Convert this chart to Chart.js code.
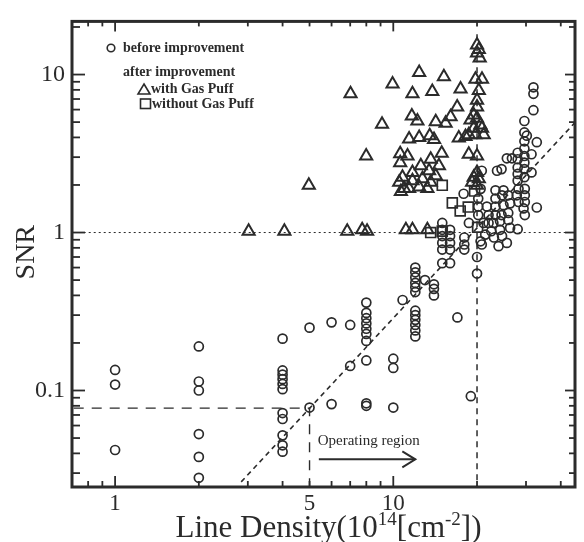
<!DOCTYPE html>
<html>
<head>
<meta charset="utf-8">
<script src="https://cdn.jsdelivr.net/npm/chart.js@4.4.1/dist/chart.umd.min.js"></script>
<style>
  html, body { margin: 0; padding: 0; background: #fff; }
</style>
</head>
<body>
<canvas id="snrChart" width="584" height="542"></canvas>
<script>
// 坐标范围
const xRange = [0.71, 45];
const yRange = [0.0245, 21.7];

// 刻度
const xLabelVals = [1, 5, 10];
const xMajor = [1, 10];
const xMinor = [0.8, 0.9, 2, 3, 4, 5, 6, 7, 8, 9, 20, 30, 40];
const yLabelVals = [0.1, 1, 10];
const yMajor = [0.1, 1, 10];
const yMinor = [0.03, 0.04, 0.05, 0.06, 0.07, 0.08, 0.09, 0.2, 0.3, 0.4, 0.5, 0.6, 0.7, 0.8, 0.9, 2, 3, 4, 5, 6, 7, 8, 9, 20];

// before improvement (圆)
const beforeX = [
  1, 1, 1,
  2, 2, 2, 2, 2, 2,
  4, 4, 4, 4, 4, 4, 4, 4, 4, 4, 4,
  5, 5, 6, 6, 7, 7,
  8, 8, 8, 8, 8, 8, 8, 8, 8, 8,
  10, 10, 10, 10.8,
  12, 12, 12, 12, 12, 12, 12, 12, 12, 12, 12, 12,
  13, 14, 14, 14, 15, 16, 17, 19, 20, 20,
  15, 15, 15, 15, 15, 16, 16, 16, 16, 18, 18, 18, 18.7, 21.1, 20.8,
  20.2, 20.2, 20.2, 17.9, 20.6, 20.8,
  31.9, 31.9, 31.9, 29.6, 29.6, 30.2, 32.8,
  29.6, 29.6, 29.6, 29.6, 29.6, 29.6,
  28, 28, 28, 28, 28,
  31.4, 31.4, 25.6, 26.7, 23.6, 24.5, 32.8,
  21.7, 22.0, 22.0, 22.5, 21.4, 20.6,
  23.3, 23.3, 23.3, 23.3, 22.9, 23.0, 23.9,
  24.9, 24.6, 24.9, 24.5, 24.2, 24.2, 24.6,
  25.9, 26.3, 25.9, 25.9, 26.3, 25.6,
  28.2, 27.8, 28.2, 28.0,
  29.7, 29.7, 29.7, 29.4, 29.7
];
const beforeY = [
  0.135, 0.109, 0.042,
  0.19, 0.114, 0.1, 0.053, 0.038, 0.028,
  0.213, 0.134, 0.126, 0.118, 0.11, 0.102, 0.072, 0.066, 0.052, 0.045, 0.041,
  0.25, 0.078, 0.27, 0.082, 0.26, 0.143,
  0.36, 0.31, 0.287, 0.266, 0.246, 0.228, 0.206, 0.155, 0.083, 0.08,
  0.159, 0.139, 0.078, 0.374,
  0.6, 0.56, 0.52, 0.48, 0.45, 0.42, 0.32, 0.3, 0.28, 0.26, 0.24, 0.22,
  0.5, 0.47, 0.44, 0.4, 0.64, 0.64, 0.29, 0.092, 0.7, 0.55,
  1.15, 1.04, 0.95, 0.86, 0.78, 1.04, 0.95, 0.86, 0.78, 0.93, 0.84, 0.78, 1.15, 1.15, 0.84,
  1.64, 1.46, 1.29, 1.76, 1.89, 2.46,
  8.3, 7.55, 5.95, 5.08, 4.3, 4.1, 3.73,
  3.78, 3.39, 3.05, 2.77, 2.52, 2.24,
  3.2, 2.91, 2.58, 2.35, 2.13,
  3.13, 2.4, 2.95, 2.95, 2.46, 2.52, 1.44,
  1.46, 1.29, 1.15, 1.02, 0.97, 0.88,
  1.85, 1.64, 1.46, 1.29, 1.15, 0.93, 0.82,
  1.85, 1.72, 1.49, 1.29, 1.18, 1.04, 0.95,
  1.72, 1.53, 1.33, 1.2, 1.07, 0.86,
  1.89, 1.72, 1.56, 1.05,
  1.89, 1.72, 1.56, 1.42, 1.29
];

// after improvement, with Gas Puff (三角)
const gasX = [
  3.02, 4.06, 4.97, 6.83, 7.73, 8.05,
  7.02, 7.99, 9.11, 9.94, 11.72, 12.39, 13.81, 15.2, 17.45, 16.97, 16.07, 15.42, 14.21,
  11.66, 12.21,
  11.4, 12.39, 13.52, 14.01,
  10.59, 11.25, 10.59,
  10.79, 10.5, 10.95, 10.65,
  11.72, 12.56, 13.45, 14.21, 11.72, 12.73, 13.63, 11.4, 12.39, 13.26, 13.63, 14.59, 14.93,
  11.1, 11.72, 13.26,
  20.0, 20.3, 20.0, 20.45, 19.74, 20.84, 20.3, 20.0, 20.0, 19.46, 18.95, 20.0, 20.56,
  19.46, 20.84, 18.68, 19.74, 21.13, 17.2, 18.18, 18.68, 20.0, 20.0, 19.46, 20.3, 19.2, 20.0
];
const gasY = [
  1.02, 1.02, 1.99, 1.02, 1.04, 1.02,
  7.55, 3.05, 4.84, 8.71, 7.55, 10.3, 7.81, 9.68, 8.1, 6.24, 5.41, 4.91, 5.03,
  5.46, 5.08,
  3.91, 4.0, 4.1, 3.88,
  3.15, 3.05, 2.77,
  2.24, 2.08, 1.9, 1.82,
  2.4, 2.65, 2.46, 2.29, 2.13, 2.19, 2.08, 1.9, 1.94, 1.9, 2.91, 2.65, 3.17,
  1.04, 1.04, 1.04,
  15.4, 14.4, 13.7, 12.75, 9.35, 9.35, 7.92, 6.87, 6.24, 5.54, 5.16, 5.28, 4.8,
  4.57, 4.57, 4.16, 4.16, 4.16, 3.96, 4.06, 3.13, 3.05, 2.4, 2.24, 2.19, 2.08, 1.99
];

// after improvement, without Gas Puff (方块)
const noPuffX = [13.63, 15.0, 15.0, 16.3, 17.4, 18.6, 19.6, 20.1];
const noPuffY = [1.0, 1.02, 1.99, 1.54, 1.37, 1.45, 1.83, 1.08];

// 参考线
const oneLineX = [0.71, 45];
const oneLineY = [1, 1];
const x20LineX = [20, 20];
const x20LineY = [18, 0.0245];
const cutLineX = [0.71, 5, 5];
const cutLineY = [0.0773, 0.0773, 0.0245];
const fitLineX = [2.84, 45];
const fitLineY = [0.0264, 4.97];

// Operating region 箭头
const arrowX = [5.4, 12.0];
const arrowY = 0.0367;
const regionLabel = 'Operating region';
const regionLabelAt = [5.35, 0.0478];

const ink = '#2b2b2b';
const serif = '"Liberation Serif", "Times New Roman", serif';

function pts(xs, ys) {
    return xs.map((x, i) => ({ x: x, y: ys[i] }));
}

function refLine(xs, ys, dash, width) {
    return {
        data: pts(xs, ys),
        showLine: true,
        pointRadius: 0,
        borderColor: ink,
        borderWidth: width,
        borderDash: dash,
        fill: false
    };
}

// 边框与向内刻度
const frameTicks = {
    id: 'frameTicks',
    afterDatasetsDraw(chart) {
        const { ctx, chartArea: a, scales } = chart;
        const sx = scales.x, sy = scales.y;
        ctx.save();
        ctx.strokeStyle = ink;
        ctx.lineWidth = 1.8;
        const seg = (x1, y1, x2, y2) => {
            ctx.beginPath(); ctx.moveTo(x1, y1); ctx.lineTo(x2, y2); ctx.stroke();
        };
        xMajor.concat(xMinor).forEach(v => {
            const px = sx.getPixelForValue(v);
            const big = xMajor.includes(v);
            seg(px, a.bottom, px, a.bottom - (big ? 11 : 6));
            seg(px, a.top, px, a.top + (big ? 10 : 5));
        });
        yMajor.concat(yMinor).forEach(v => {
            const py = sy.getPixelForValue(v);
            if (py < a.top + 1 || py > a.bottom - 1) return;
            const big = yMajor.includes(v);
            seg(a.left, py, a.left + (big ? 13 : 8), py);
            seg(a.right, py, a.right - (big ? 10 : 6), py);
        });
        ctx.lineWidth = 3;
        ctx.strokeRect(a.left, a.top, a.right - a.left, a.bottom - a.top);
        ctx.restore();
    }
};

// 图例、标注和轴标题
const annotations = {
    id: 'annotations',
    afterDraw(chart) {
        const { ctx, chartArea: a, scales } = chart;
        const sx = scales.x, sy = scales.y;
        ctx.save();
        ctx.fillStyle = ink;
        ctx.strokeStyle = ink;

        // 图例
        ctx.lineWidth = 1.6;
        ctx.beginPath(); ctx.arc(111, 48, 3.8, 0, Math.PI * 2); ctx.stroke();
        ctx.beginPath();
        ctx.moveTo(144, 84); ctx.lineTo(150, 94); ctx.lineTo(138, 94); ctx.closePath(); ctx.stroke();
        ctx.strokeRect(140.5, 99, 10, 9.5);
        ctx.font = 'bold 14px ' + serif;
        ctx.textBaseline = 'middle';
        ctx.textAlign = 'left';
        ctx.fillText('before improvement', 123, 48);
        ctx.fillText('after improvement', 123, 72);
        ctx.fillText('with Gas Puff', 151, 89);
        ctx.fillText('without Gas Puff', 152, 104);

        // Operating region
        ctx.font = '15px ' + serif;
        ctx.fillText(regionLabel, sx.getPixelForValue(regionLabelAt[0]), sy.getPixelForValue(regionLabelAt[1]));
        const ax1 = sx.getPixelForValue(arrowX[0]);
        const ax2 = sx.getPixelForValue(arrowX[1]);
        const ay = sy.getPixelForValue(arrowY);
        ctx.lineWidth = 2;
        ctx.beginPath(); ctx.moveTo(ax1, ay); ctx.lineTo(ax2, ay); ctx.stroke();
        ctx.beginPath();
        ctx.moveTo(ax2 - 13, ay - 8); ctx.lineTo(ax2, ay); ctx.lineTo(ax2 - 13, ay + 8);
        ctx.stroke();

        // y 轴标题
        ctx.save();
        ctx.translate(27, (a.top + a.bottom) / 2 - 2);
        ctx.rotate(-Math.PI / 2);
        ctx.font = '28px ' + serif;
        ctx.textAlign = 'center';
        ctx.fillText('SNR', 0, 0);
        ctx.restore();

        // x 轴标题（带上标）
        const parts = [
            ['Line Density(10', 31, 0],
            ['14', 19, -12],
            ['[cm', 31, 0],
            ['-2', 19, -12],
            ['])', 31, 0]
        ];
        ctx.textBaseline = 'alphabetic';
        let total = 0;
        parts.forEach(p => { ctx.font = p[1] + 'px ' + serif; total += ctx.measureText(p[0]).width; });
        let cx = (a.left + a.right) / 2 + 5 - total / 2;
        parts.forEach(p => {
            ctx.font = p[1] + 'px ' + serif;
            ctx.fillText(p[0], cx, 537 + p[2]);
            cx += ctx.measureText(p[0]).width;
        });
        ctx.restore();
    }
};

const ctx = document.getElementById('snrChart').getContext('2d');
new Chart(ctx, {
    type: 'scatter',
    data: {
        datasets: [
            {
                label: 'without Gas Puff',
                data: pts(noPuffX, noPuffY),
                pointStyle: 'rect',
                pointRadius: 7,
                borderColor: ink,
                borderWidth: 1.7,
                backgroundColor: 'rgba(0,0,0,0)'
            },
            {
                label: 'with Gas Puff',
                data: pts(gasX, gasY),
                pointStyle: 'triangle',
                pointRadius: 7,
                borderColor: ink,
                borderWidth: 2,
                backgroundColor: 'rgba(0,0,0,0)'
            },
            {
                label: 'before improvement',
                data: pts(beforeX, beforeY),
                pointStyle: 'circle',
                pointRadius: 4.5,
                borderColor: ink,
                borderWidth: 1.7,
                backgroundColor: 'rgba(0,0,0,0)'
            },
            refLine(oneLineX, oneLineY, [2, 3], 1),
            refLine(x20LineX, x20LineY, [6, 5], 1.5),
            refLine(cutLineX, cutLineY, [10, 8], 1.4),
            refLine(fitLineX, fitLineY, [5, 4], 1.6)
        ]
    },
    options: {
        responsive: false,
        animation: false,
        layout: { padding: { top: 12, right: 7, left: 0, bottom: 0 } },
        plugins: {
            legend: { display: false },
            tooltip: { enabled: false }
        },
        scales: {
            x: {
                type: 'logarithmic',
                position: 'bottom',
                min: xRange[0],
                max: xRange[1],
                grid: { display: false, drawTicks: false },
                border: { display: false },
                afterBuildTicks: s => { s.ticks = xLabelVals.map(v => ({ value: v })); },
                afterFit: s => { s.height = 55; },
                ticks: {
                    autoSkip: false,
                    maxRotation: 0,
                    padding: 3,
                    color: ink,
                    font: { family: serif, size: 23 },
                    callback: v => String(v)
                }
            },
            y: {
                type: 'logarithmic',
                position: 'left',
                min: yRange[0],
                max: yRange[1],
                grid: { display: false, drawTicks: false },
                border: { display: false },
                afterBuildTicks: s => { s.ticks = yLabelVals.map(v => ({ value: v })); },
                afterFit: s => { s.width = 72; },
                ticks: {
                    autoSkip: false,
                    padding: 7,
                    color: ink,
                    font: { family: serif, size: 24 },
                    callback: v => String(v)
                }
            }
        }
    },
    plugins: [frameTicks, annotations]
});
</script>
</body>
</html>
